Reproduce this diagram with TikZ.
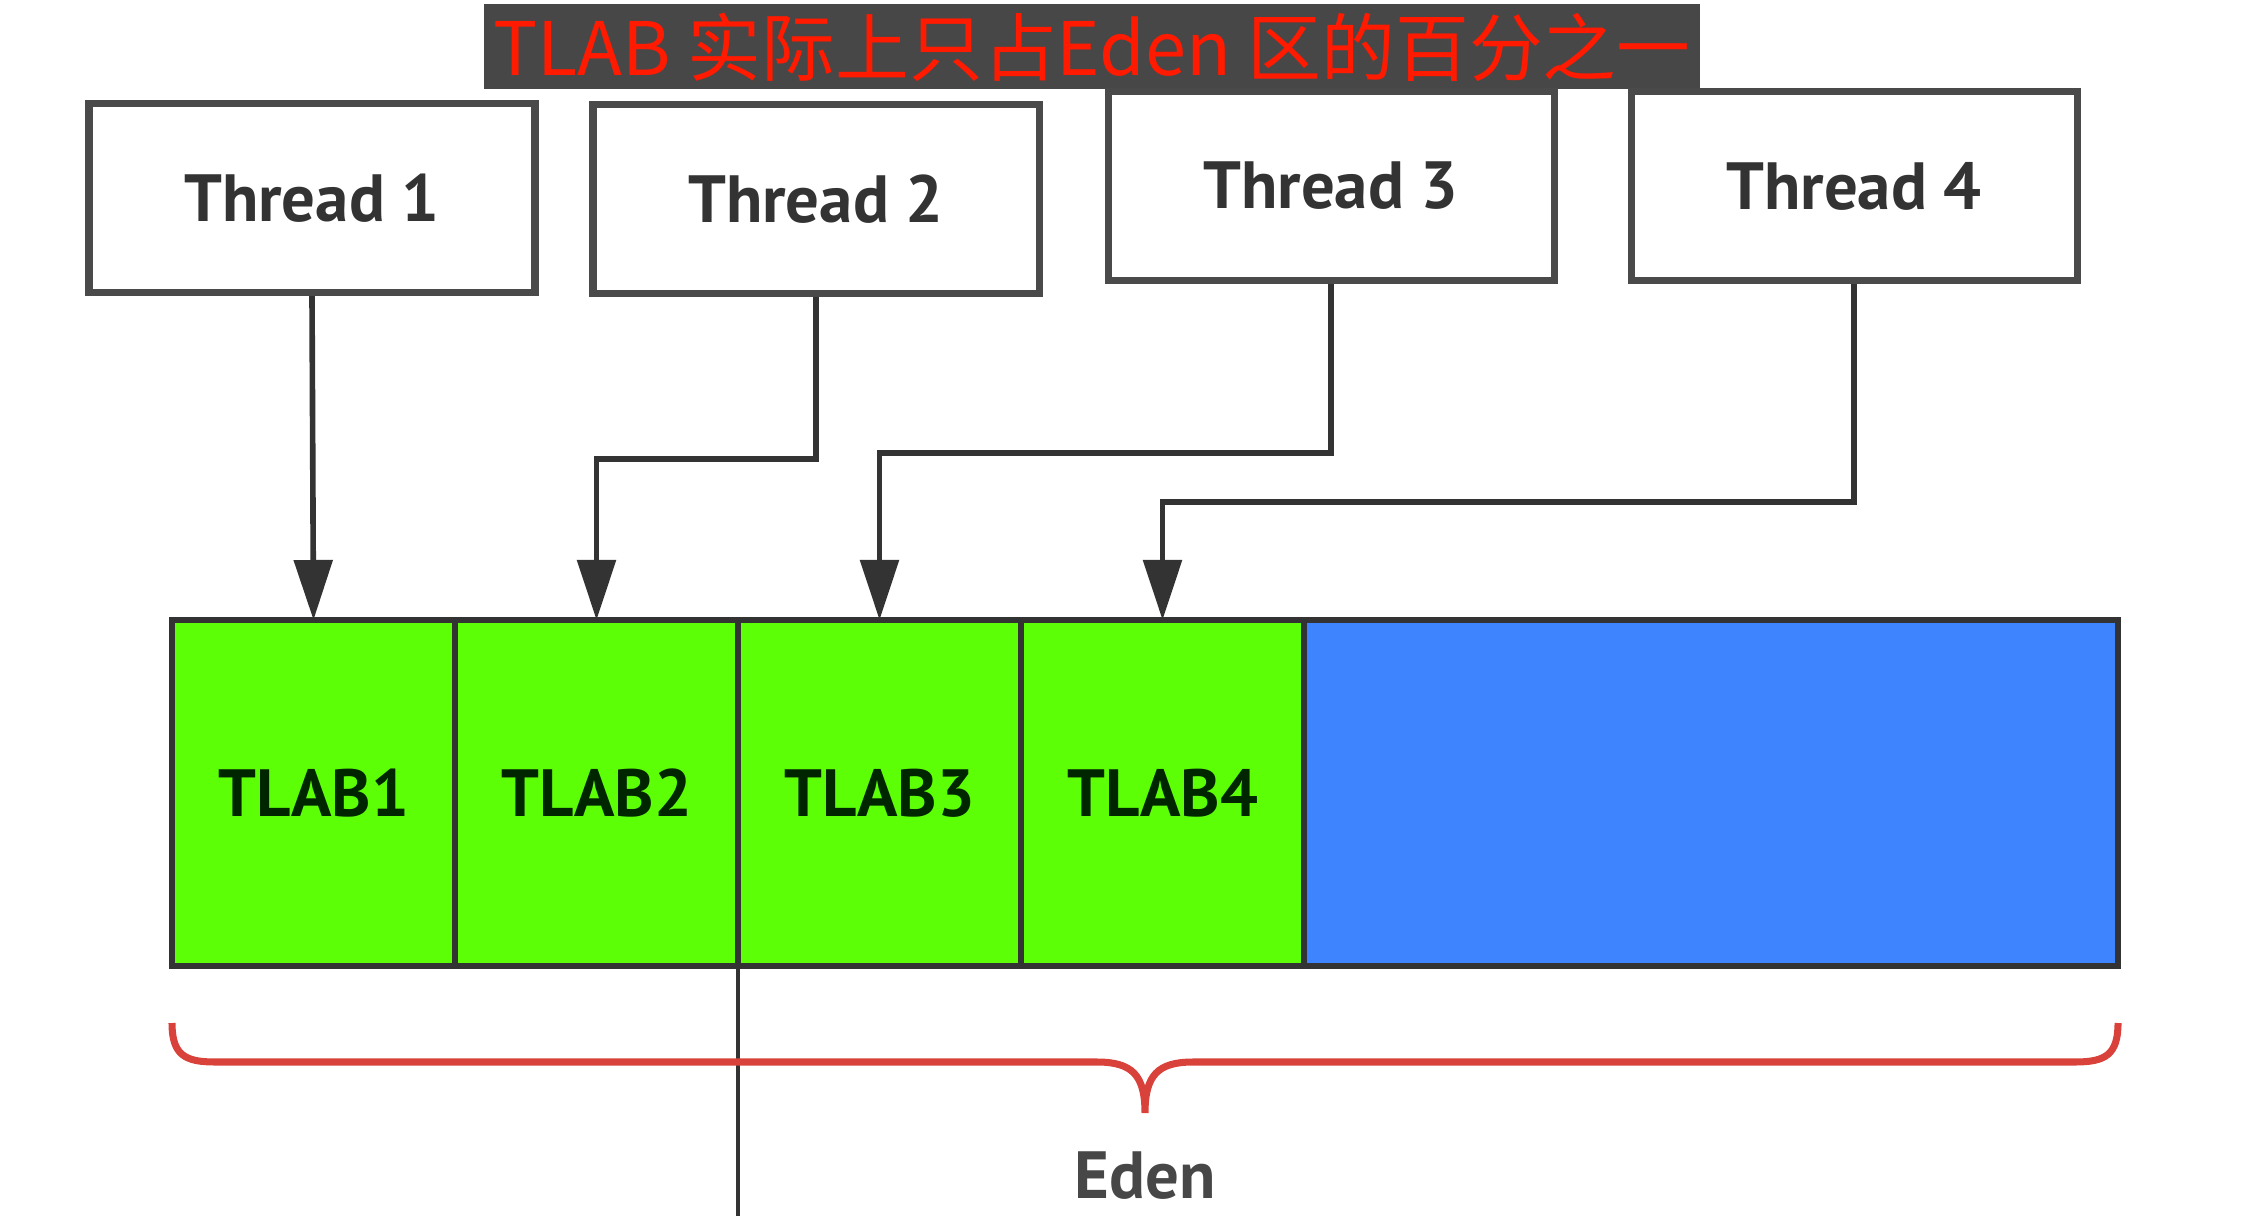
\documentclass[tikz,border=0pt]{standalone}
\usepackage{fontspec}
\setmainfont{PT Sans}
\newfontfamily\cjk{Noto Sans CJK SC}
\usetikzlibrary{arrows.meta,positioning,calc}
\definecolor{boxline}{HTML}{4A4A4A}
\definecolor{ink}{HTML}{333333}
\definecolor{tlabgreen}{HTML}{5CFF06}
\definecolor{edenblue}{HTML}{3F84FF}
\definecolor{titlebg}{HTML}{474747}
\definecolor{titlered}{HTML}{FF1A00}
\definecolor{bracered}{HTML}{D8423A}

\begin{document}
\begin{tikzpicture}[
  thr/.style={draw=boxline,line width=2pt,fill=white,minimum width=4.46cm,minimum height=1.89cm,
    font=\fontsize{19}{22}\selectfont\bfseries,text=ink},
  tlab/.style={draw=ink,line width=1.5pt,fill=tlabgreen,minimum width=2.83cm,minimum height=3.46cm,
    inner sep=0pt,outer sep=0pt,font=\fontsize{19}{22}\selectfont\bfseries,text=black!85!green},
  free/.style={tlab,fill=edenblue,minimum width=8.14cm},
  a/.style={-{Triangle[length=0.6cm,width=0.38cm]},ink,line width=1.6pt}]
\useasboundingbox (0,0) rectangle (22.44,-12.16);
% title bar
\node[fill=titlebg,minimum width=12.16cm,minimum height=0.85cm,inner sep=0pt,
  font=\cjk\fontsize{21}{23}\selectfont,text=titlered] (title) at (10.92,-0.47)
  {TLAB 实际上只占Eden 区的百分之一};
% threads
\node[thr] (t1) at (3.12,-1.98) {Thread 1};
\node[thr] (t2) at (8.16,-1.99) {Thread 2};
\node[thr] (t3) at (13.31,-1.86) {Thread 3};
\node[thr] (t4) at (18.54,-1.86) {Thread 4};
% eden space
\node[tlab] (b1) at (3.135,-7.93) {TLAB1};
\node[tlab,right=0pt of b1] (b2) {TLAB2};
\node[tlab,right=0pt of b2] (b3) {TLAB3};
\node[tlab,right=0pt of b3] (b4) {TLAB4};
\node[free,right=0pt of b4] (rest) {};
\draw[a] (t1.south) -- (b1.north);
\draw[a] (t2.south) -- ++(0,-1.62) -| (b2.north);
\draw[a] (t3.south) -- ++(0,-1.69) -| (b3.north);
\draw[a] (t4.south) -- ++(0,-2.18) -| (b4.north);
\coordinate (cut) at (b2.south east |- 0,-12.16);
\draw[ink,line width=1.2pt] (b2.south east) -- (cut);
% brace
\coordinate (bl) at ($(b1.south west)+(0,-0.57)$);
\coordinate (br) at ($(rest.south east)+(0,-0.57)$);
\coordinate (bm) at ($(bl)!0.5!(br)+(0,-0.9)$);
\draw[bracered,line width=2pt]
  (bl) .. controls ++(0,-0.32) and ++(-0.3,0) .. ($(bl)+(0.43,-0.39)$)
  -- ($(bm)+(-0.48,0.51)$) .. controls ++(0.35,0) and ++(0,0.38) .. (bm)
  .. controls ++(0,0.38) and ++(-0.35,0) .. ($(bm)+(0.48,0.51)$)
  -- ($(br)+(-0.43,-0.39)$) .. controls ++(0.3,0) and ++(0,-0.32) .. (br);
\node[text=ink!90,font=\fontsize{19}{22}\selectfont\bfseries] (eden) at ($(bm)+(0,-0.63)$) {Eden};
\end{tikzpicture}
\end{document}
